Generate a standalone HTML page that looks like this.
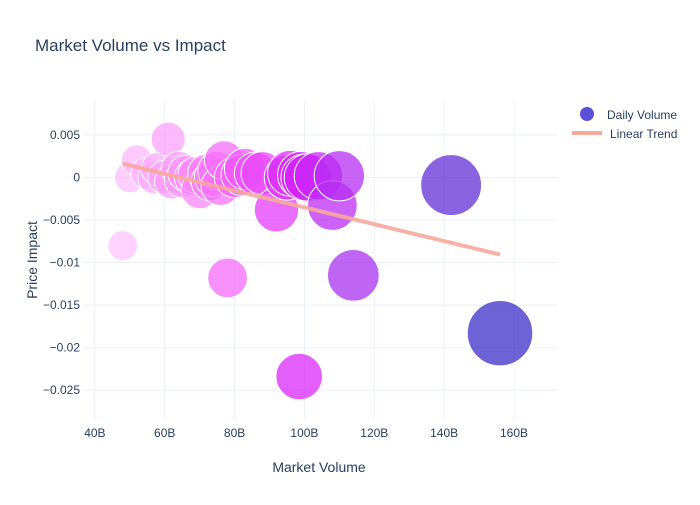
<!DOCTYPE html>
<html><head><meta charset="utf-8"><style>
body{margin:0;background:#fff;font-family:"Liberation Sans",sans-serif;}
svg text{font-family:"Liberation Sans",sans-serif;fill:#2a3f5f;}
</style></head><body>
<svg id="chart" width="700" height="500">
<rect width="700" height="500" fill="#fff"/>
<text x="35" y="51" font-size="17">Market Volume vs Impact</text>
<g id="grid"></g>
<g id="marks"></g>
<g id="ticks"></g>
<text x="319" y="472" font-size="14" text-anchor="middle">Market Volume</text>
<text transform="translate(37,260) rotate(-90)" font-size="14" text-anchor="middle">Price Impact</text>
<g>
<circle cx="587" cy="114" r="7" fill="#5a4fd6"/>
<text x="607" y="119" font-size="12">Daily Volume</text>
<line x1="572" y1="133" x2="602" y2="133" stroke="#f8a79b" stroke-width="4"/>
<text x="610" y="138" font-size="12">Linear Trend</text>
</g>
</svg>
<script>
const volumes=[48,50,52,55,57,58,60,61,62,64,65,66,68,69,70,72,73,74,75,76,77,78,80,82,83,86,88,92,95,96,98.5,99,100,101,104,108,110,114,142,156];
const impacts=[-0.008,0.0,0.002,0.0005,0.0,0.001,0.0,0.0045,-0.0005,0.001,-0.0003,0.0005,0.0,0.0003,-0.0015,0.0005,-0.0005,0.0,0.0008,-0.001,0.002,-0.0118,0.0,0.0003,0.001,0.0005,0.0005,-0.0038,0.0,0.0005,-0.0234,0.0003,0.0,0.0,0.0002,-0.0033,0.0002,-0.0115,-0.0009,-0.0183];
const xTicks=[40,60,80,100,120,140,160];
const yTicks=[0.005,0,-0.005,-0.01,-0.015,-0.02,-0.025];
const yTickLabels=["0.005","0","−0.005","−0.01","−0.015","−0.02","−0.025"];

const L=83,R=558,T=100,B=420;
const xMin=36.6,xMax=172.6,yMin=-0.0285,yMax=0.0091;
const X=v=>L+(v-xMin)/(xMax-xMin)*(R-L);
const Y=v=>B-(v-yMin)/(yMax-yMin)*(B-T);
const NS="http://www.w3.org/2000/svg";
function mk(tag,attrs,parent){const e=document.createElementNS(NS,tag);for(const k in attrs)e.setAttribute(k,attrs[k]);parent.appendChild(e);return e;}
const grid=document.getElementById('grid'),ticks=document.getElementById('ticks'),marks=document.getElementById('marks');
xTicks.forEach(t=>{
  const l=mk('line',{x1:X(t),x2:X(t),y1:T,y2:B,stroke:'#ebf0f8'},grid);
  
  
  const tx=mk('text',{x:X(t),y:B+17,'font-size':12,'text-anchor':'middle'},ticks);
  tx.textContent=t+'B';
  
  
});
yTicks.forEach((t,i)=>{
  const l=mk('line',{x1:L,x2:R,y1:Y(t),y2:Y(t),stroke:'#ebf0f8'},grid);
  
  
  const tx=mk('text',{x:L-3,y:Y(t)+4,'font-size':12,'text-anchor':'end'},ticks);
  tx.textContent=yTickLabels[i];
  
  
});
const stops=[[48,[255,195,255]],[65,[250,150,250]],[80,[245,100,250]],[100,[215,35,250]],[114,[170,50,240]],[156,[60,45,200]]];
function col(v){
  if(v<=stops[0][0])return 'rgb('+stops[0][1]+')';
  for(let i=1;i<stops.length;i++){if(v<=stops[i][0]){const a=stops[i-1],b=stops[i],f=(v-a[0])/(b[0]-a[0]);return 'rgb('+a[1].map((c,j)=>Math.round(c+(b[1][j]-c)*f)).join(',')+')';}}
  return 'rgb('+stops[stops.length-1][1]+')';
}
volumes.forEach((v,i)=>{
  const c=mk('circle',{cx:X(v),cy:Y(impacts[i]),r:7+v*0.165,fill:col(v),'fill-opacity':0.75,stroke:'#fff','stroke-width':1},marks);
  
  
});
const n=volumes.length,mx=volumes.reduce((a,b)=>a+b)/n,my=impacts.reduce((a,b)=>a+b)/n;
let sxy=0,sxx=0;volumes.forEach((v,i)=>{sxy+=(v-mx)*(impacts[i]-my);sxx+=(v-mx)**2;});
const slope=sxy/sxx,ic=my-slope*mx;
const x0=Math.min(...volumes),x1=Math.max(...volumes);
const tl=mk('line',{x1:X(x0),y1:Y(ic+slope*x0),x2:X(x1),y2:Y(ic+slope*x1),stroke:'#f8a79b','stroke-width':4,'stroke-opacity':0.9},marks);


</script>
</body></html>
